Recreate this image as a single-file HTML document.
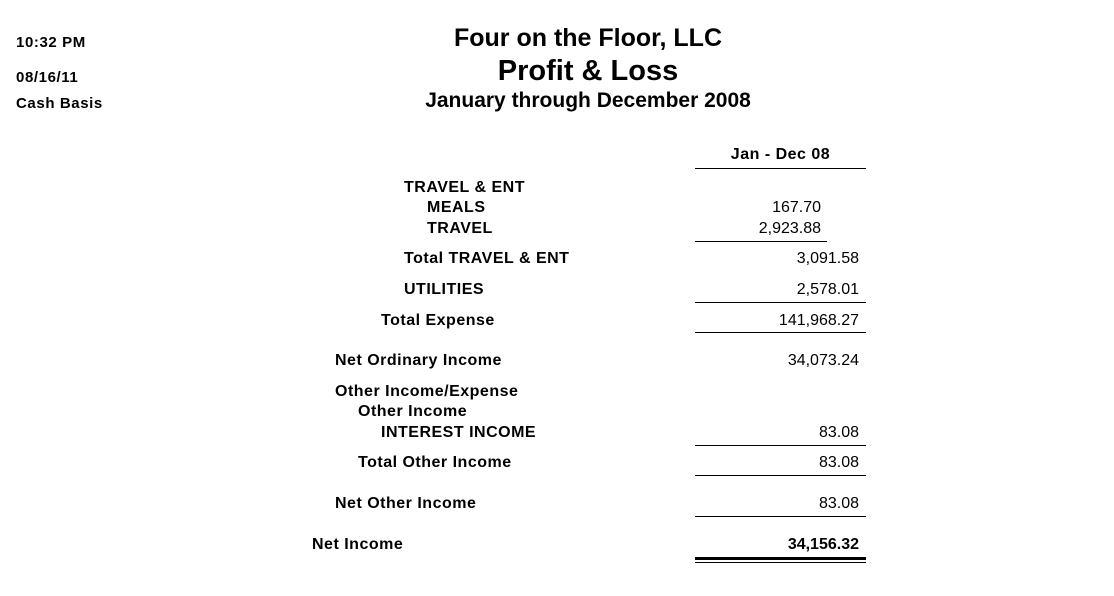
<!DOCTYPE html>
<html><head><meta charset="utf-8">
<style>
body{margin:0;width:1114px;height:596px;background:#fff;position:relative;overflow:hidden;font-family:"Liberation Sans",Arial,sans-serif;color:#000}
.t{position:absolute;white-space:nowrap;font-size:16px;line-height:18px;font-weight:bold;letter-spacing:0.5px;margin-top:1px}
.v{position:absolute;white-space:nowrap;font-size:16px;line-height:18px;text-align:right;margin-top:1px}
.l{position:absolute;height:1px;background:#000}
.h{position:absolute;white-space:nowrap;font-weight:bold;text-align:center;left:288px;width:600px}
.s{letter-spacing:0.6px}
</style></head><body>
<div class="t s" style="left:16px;top:33px;font-size:15px">10:32 PM</div>
<div class="t s" style="left:16px;top:68px;font-size:15px">08/16/11</div>
<div class="t s" style="left:16px;top:94px;font-size:15px">Cash Basis</div>
<div class="h" style="top:23px;font-size:25px;line-height:30px">Four on the Floor, LLC</div>
<div class="h" style="top:54px;font-size:29px;line-height:34px">Profit &amp; Loss</div>
<div class="h" style="top:89px;font-size:21px;line-height:24px">January through December 2008</div>
<div class="t" style="left:695px;width:171px;text-align:center;top:145px">Jan - Dec 08</div>
<div class="l" style="left:695px;width:171px;top:168px"></div>

<div class="t" style="left:404px;top:178px">TRAVEL &amp; ENT</div>
<div class="t" style="left:427px;top:198px">MEALS</div>
<div class="v" style="right:293px;top:198px">167.70</div>
<div class="t" style="left:427px;top:219px">TRAVEL</div>
<div class="v" style="right:293px;top:219px">2,923.88</div>
<div class="l" style="left:695px;width:132px;top:241px"></div>
<div class="t" style="left:404px;top:249px">Total TRAVEL &amp; ENT</div>
<div class="v" style="right:255px;top:249px">3,091.58</div>
<div class="t" style="left:404px;top:280px">UTILITIES</div>
<div class="v" style="right:255px;top:280px">2,578.01</div>
<div class="l" style="left:695px;width:171px;top:302px"></div>
<div class="t" style="left:381px;top:311px">Total Expense</div>
<div class="v" style="right:255px;top:311px">141,968.27</div>
<div class="l" style="left:695px;width:171px;top:332px"></div>
<div class="t" style="left:335px;top:351px">Net Ordinary Income</div>
<div class="v" style="right:255px;top:351px">34,073.24</div>
<div class="t" style="left:335px;top:382px">Other Income/Expense</div>
<div class="t" style="left:358px;top:402px">Other Income</div>
<div class="t" style="left:381px;top:423px">INTEREST INCOME</div>
<div class="v" style="right:255px;top:423px">83.08</div>
<div class="l" style="left:695px;width:171px;top:445px"></div>
<div class="t" style="left:358px;top:453px">Total Other Income</div>
<div class="v" style="right:255px;top:453px">83.08</div>
<div class="l" style="left:695px;width:171px;top:475px"></div>
<div class="t" style="left:335px;top:494px">Net Other Income</div>
<div class="v" style="right:255px;top:494px">83.08</div>
<div class="l" style="left:695px;width:171px;top:516px"></div>
<div class="t" style="left:312px;top:535px">Net Income</div>
<div class="t" style="right:255px;top:535px;letter-spacing:0">34,156.32</div>
<div class="l" style="left:695px;width:171px;top:557px;height:3px"></div>
<div class="l" style="left:695px;width:171px;top:562px"></div>
</body></html>
